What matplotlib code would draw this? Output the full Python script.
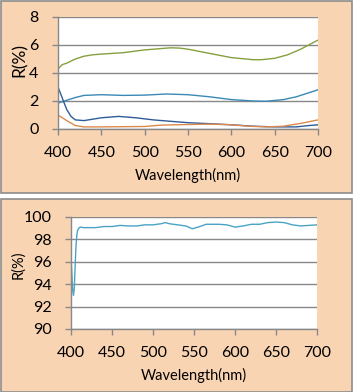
import matplotlib
matplotlib.use('Agg')
import matplotlib.pyplot as plt
from matplotlib.patches import Rectangle

plt.rcParams['font.family'] = ['Lato', 'DejaVu Sans']

# top chart: four reflectance curves
wl_green = [400, 405, 410, 420, 430, 440, 450, 475, 500, 520, 530, 540, 550, 575, 600, 625, 635, 650, 665, 680, 700]
r_green = [4.3, 4.6, 4.7, 5.0, 5.2, 5.3, 5.35, 5.45, 5.65, 5.75, 5.8, 5.78, 5.7, 5.4, 5.1, 4.95, 4.95, 5.05, 5.3, 5.7, 6.35]

wl_teal = [400, 410, 420, 430, 450, 475, 500, 525, 550, 575, 600, 625, 640, 660, 675, 700]
r_teal = [1.85, 2.05, 2.25, 2.4, 2.45, 2.4, 2.42, 2.5, 2.45, 2.3, 2.1, 2.0, 1.98, 2.1, 2.3, 2.8]

wl_blue = [400, 405, 410, 415, 420, 430, 450, 470, 490, 510, 530, 550, 575, 600, 625, 650, 675, 690, 700]
r_blue = [3.0, 2.2, 1.4, 0.9, 0.65, 0.6, 0.8, 0.9, 0.8, 0.65, 0.55, 0.45, 0.38, 0.3, 0.2, 0.15, 0.15, 0.25, 0.3]

wl_orange = [400, 410, 420, 430, 450, 500, 520, 550, 575, 600, 620, 640, 660, 680, 700]
r_orange = [1.0, 0.6, 0.25, 0.15, 0.15, 0.18, 0.28, 0.32, 0.35, 0.3, 0.2, 0.15, 0.2, 0.4, 0.65]

# bottom chart: one high reflectance curve
wl_high = [400, 401, 402, 403, 404, 405, 406, 407, 408, 410, 412, 415, 420, 430, 440, 450, 460, 470, 480,
           490, 500, 510, 515, 520, 530, 540, 548, 555, 565, 580, 590, 600, 610, 620, 630, 640, 650, 660,
           670, 680, 690, 700]
r_high = [96.5, 95.0, 93.5, 93.0, 93.6, 95.5, 97.3, 98.3, 98.8, 99.05, 99.1, 99.05, 99.05, 99.05, 99.15,
          99.15, 99.25, 99.2, 99.2, 99.3, 99.3, 99.4, 99.5, 99.4, 99.3, 99.2, 98.95, 99.1, 99.35, 99.35,
          99.3, 99.1, 99.2, 99.35, 99.35, 99.5, 99.55, 99.5, 99.3, 99.2, 99.25, 99.3]

xticks = [400, 450, 500, 550, 600, 650, 700]

W, H = 355, 392
fig = plt.figure(figsize=(W / 100, H / 100), dpi=100)

peach = '#f9d4b3'
edge = '#8c8c8c'
# panel backgrounds
fig.patches.append(Rectangle((0.5 / W, 1 - 192.5 / H), 351 / W, 192 / H, transform=fig.transFigure,
                             facecolor=peach, edgecolor=edge, lw=1.2, zorder=-5))
fig.patches.append(Rectangle((0.5 / W, 1 - 391.5 / H), 351 / W, 192.5 / H, transform=fig.transFigure,
                             facecolor=peach, edgecolor=edge, lw=1.2, zorder=-5))


def style_axes(ax, ylim, ystep, ylab_size):
    ax.set_facecolor('white')
    ax.set_xlim(400, 700)
    ax.set_ylim(*ylim)
    ax.set_xticks(xticks)
    ax.set_yticks(range(ylim[0], ylim[1] + 1, ystep))
    ax.grid(axis='y', color='#888888', lw=1.0)
    ax.set_axisbelow(True)
    for s in ['top', 'right']:
        ax.spines[s].set_visible(False)
    for s in ['left', 'bottom']:
        ax.spines[s].set_color('#888888')
        ax.spines[s].set_linewidth(1.0)
    ax.tick_params(direction='out', length=4, width=1.0, color='#888888',
                   labelsize=11.5, labelcolor='black')
    ax.tick_params(axis='x', pad=8)
    ax.tick_params(axis='y', pad=10)
    ax.set_xlabel('Wavelength(nm)', fontsize=10.5, labelpad=6)
    ax.set_ylabel('R(%)', fontsize=ylab_size, va='center')


ax1 = fig.add_axes([58 / W, 1 - 129 / H, 260 / W, 112 / H])
ax1.plot(wl_green, r_green, color='#85a040', lw=1.0)
ax1.plot(wl_teal, r_teal, color='#3a88b5', lw=1.0)
ax1.plot(wl_blue, r_blue, color='#2f5c98', lw=1.0)
ax1.plot(wl_orange, r_orange, color='#dc8a4c', lw=1.0)
style_axes(ax1, (0, 8), 2, 12.5)
ax1.yaxis.set_label_coords(-0.146, 0.616)

ax2 = fig.add_axes([71 / W, 1 - 329 / H, 246 / W, 112 / H])
ax2.plot(wl_high, r_high, color='#4aa3c4', lw=1.0)
style_axes(ax2, (90, 100), 2, 10.5)
ax2.yaxis.set_label_coords(-0.213, 0.571)

fig.savefig('out.png', dpi=100)
